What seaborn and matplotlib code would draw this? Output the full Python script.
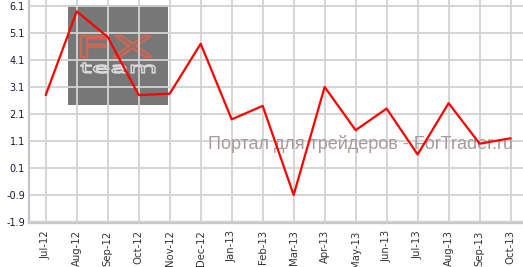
import matplotlib
matplotlib.use("Agg")
import matplotlib.pyplot as plt
from matplotlib.patches import Rectangle, PathPatch
from matplotlib.textpath import TextPath
from matplotlib.font_manager import FontProperties
from matplotlib.transforms import Affine2D
import numpy as np
import pandas as pd
import seaborn as sns

months = ["Jul-12", "Aug-12", "Sep-12", "Oct-12", "Nov-12", "Dec-12", "Jan-13",
          "Feb-13", "Mar-13", "Apr-13", "May-13", "Jun-13", "Jul-13", "Aug-13",
          "Sep-13", "Oct-13"]
values = [2.8, 5.9, 4.95, 2.8, 2.85, 4.7, 1.9, 2.4, -0.9, 3.1, 1.5, 2.3, 0.6, 2.5, 1.0, 1.2]
y_ticks = [-1.9, -0.9, 0.1, 1.1, 2.1, 3.1, 4.1, 5.1, 6.1]
watermark = "Портал для трейдеров - ForTrader.ru"

df = pd.DataFrame({"pos": np.arange(len(months)), "value": values})

sns.set_style("white")
fig = plt.figure(figsize=(5.23, 2.67), dpi=100)
AX_L, AX_B = 29, 45
AX_W, AX_H = 523 - AX_L, 267 - AX_B
ax = fig.add_axes([AX_L / 523, AX_B / 267, AX_W / 523, AX_H / 267])


def fx(px):
    return (px - AX_L) / AX_W


def fy(py):
    return 1 - py / AX_H


# logo box (behind grid)
ax.add_patch(Rectangle((fx(68), fy(105)), 100 / AX_W, 100 / AX_H,
                       transform=ax.transAxes, facecolor="#777777", edgecolor="none", zorder=0.5))


def logo_text(s, x0, x1, y0, y1, color, lw):
    tp = TextPath((0, 0), s, size=1, prop=FontProperties(family="DejaVu Sans"))
    ext = tp.get_extents()
    sx = (fx(x1) - fx(x0)) / ext.width
    sy = (fy(y0) - fy(y1)) / ext.height
    tr = Affine2D().translate(-ext.x0, -ext.y0).scale(sx, sy).translate(fx(x0), fy(y1))
    ax.add_patch(PathPatch(tp, transform=tr + ax.transAxes, facecolor="none",
                           edgecolor=color, linewidth=lw, zorder=0.6))


logo_text("FX", 81, 152, 36, 57, "#d26552", 1.6)
logo_text("team", 81, 155, 63, 73, "#dadada", 1.1)

sns.lineplot(data=df, x="pos", y="value", ax=ax, color="#ff0000", linewidth=1.6, zorder=4)

ax.text(fx(513), fy(144), watermark, transform=ax.transAxes, ha="right", va="center",
        fontsize=13.0, color="#a89a9a", family="Liberation Sans", zorder=3.5)

ax.set_xlim(-0.54, 15.4)
ax.set_ylim(-1.9, 6.32)
ax.set_xticks(df["pos"])
ax.set_xticklabels(months, rotation=90, fontsize=7.3, color="#333333")
ax.set_yticks(y_ticks)
ax.set_yticklabels([f"{v:.1f}" for v in y_ticks], fontsize=7, color="#1a1a3a")
ax.set_xlabel("")
ax.set_ylabel("")

ax.set_axisbelow(False)
ax.grid(True, color="#d2d2d2", linewidth=1.3)
for g in ax.get_xgridlines() + ax.get_ygridlines():
    g.set_zorder(1)

for s in ["top", "right"]:
    ax.spines[s].set_visible(False)
ax.spines["left"].set_color("#c4c4c4")
ax.spines["left"].set_linewidth(1.6)
ax.spines["bottom"].set_color("#c8c8c8")
ax.spines["bottom"].set_linewidth(2.4)
ax.tick_params(axis="x", length=4, width=1, color="#c8c8c8", pad=2)
ax.tick_params(axis="y", length=0, pad=3)

fig.savefig("out.png", dpi=100)
